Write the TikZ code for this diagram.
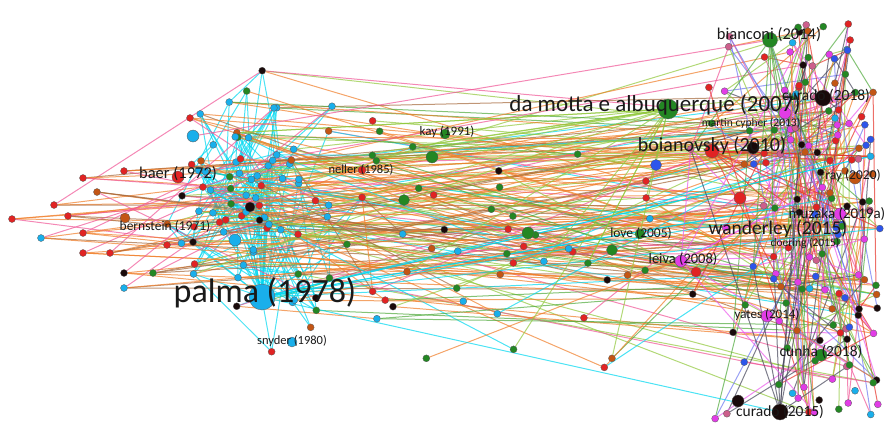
\documentclass[tikz,border=0pt]{standalone}
\usepackage{fontspec}
\setmainfont{Carlito}
\pgfdeclarelayer{edges}
\pgfsetlayers{edges,main}
% node colours
\definecolor{cyanN}{RGB}{25,175,235}
\definecolor{redN}{RGB}{225,35,35}
\definecolor{greenN}{RGB}{35,135,35}
\definecolor{blackN}{RGB}{25,10,10}
\definecolor{brownN}{RGB}{195,85,20}
\definecolor{magN}{RGB}{225,60,230}
\definecolor{pinkN}{RGB}{205,95,140}
\definecolor{blueN}{RGB}{45,85,235}
% link colours
\definecolor{cyanE}{RGB}{0,215,240}
\definecolor{orangeE}{RGB}{240,125,40}
\definecolor{limeE}{RGB}{145,200,60}
\definecolor{pinkE}{RGB}{240,85,150}
\definecolor{brownE}{RGB}{165,105,60}
\definecolor{magE}{RGB}{235,90,235}
\definecolor{greenE}{RGB}{80,170,60}
\definecolor{redE}{RGB}{230,50,40}
\definecolor{grayE}{RGB}{70,70,90}
\definecolor{blueE}{RGB}{110,120,240}
\begin{document}
\begin{tikzpicture}[x=1pt,y=-1pt,
	dot/.style={circle,draw=black!65,line width=.3pt,inner sep=0pt,minimum size=7pt},
	link/.style={line width=1pt,opacity=.7},
	lab/.style={inner sep=0pt,text=black!90}]
	\useasboundingbox (0,0) rectangle (890,436);
	\pgfmathsetseed{11}
	\pgfmathdeclarerandomlist{leftcol}{{cyanN}{cyanN}{cyanN}{cyanN}{cyanN}{cyanN}{redN}{redN}{blackN}{greenN}{brownN}}
	\pgfmathdeclarerandomlist{midcol}{{greenN}{greenN}{greenN}{redN}{cyanN}{blackN}{brownN}}
	\pgfmathdeclarerandomlist{rightcol}{{greenN}{greenN}{greenN}{blackN}{blackN}{magN}{magN}{pinkN}{redN}{redN}{blueN}{brownN}{cyanN}}
	\pgfmathdeclarerandomlist{crosscol}{{orangeE}{limeE}{cyanE}{pinkE}{brownE}{orangeE}{limeE}{orangeE}{greenE}}
	\pgfmathdeclarerandomlist{rightedge}{{magE}{greenE}{redE}{grayE}{limeE}{blueE}{pinkE}{orangeE}}
	% Left cluster (mostly cyan)
	\foreach \i in {1,...,80} {
		\pgfmathsetmacro\x{262+108*(rnd+rnd-1)}
		\pgfmathsetmacro\y{210+155*(rnd+rnd-1)}
		\pgfmathrandomitem{\col}{leftcol}
		\node[dot,fill=\col] (l\i) at (\x,\y) {};
	}
	% Scattered nodes in the middle
	\foreach \i in {1,...,45} {
		\pgfmathsetmacro\x{370+280*rnd}
		\pgfmathsetmacro\y{120+250*rnd}
		\pgfmathrandomitem{\col}{midcol}
		\node[dot,fill=\col] (m\i) at (\x,\y) {};
	}
	% Right cluster: core (r1-r100), then top and bottom (r101-r150)
	\foreach \i in {1,...,150} {
		\pgfmathsetmacro\x{880-220*rnd*(0.3+0.7*rnd)}
		\ifnum\i>100
			\pgfmathsetmacro\y{(rnd<0.45) ? 22+70*rnd : 345+77*rnd}
		\else
			\pgfmathsetmacro\y{92+255*rnd}
		\fi
		\pgfmathrandomitem{\col}{rightcol}
		\node[dot,fill=\col] (r\i) at (\x,\y) {};
	}
	% Left fringe
	\foreach \i/\x/\y/\col in {1/12/219/redN, 2/54/205/redN, 3/68/216/redN, 4/97/192/brownN,
		5/83/178/redN, 6/124/171/redN, 7/83/233/redN, 8/83/253/redN, 9/110/253/redN,
		10/41/238/cyanN, 11/124/288/cyanN, 12/124/273/blackN, 13/153/273/greenN,
		14/167/245/redN, 15/190/118/redN} {
		\node[dot,fill=\col] (f\i) at (\x,\y) {};
	}
	% Larger nodes
	\foreach \n/\x/\y/\s/\col in {palma/262/297/26/cyanN, baer/178/177/12/redN, bern/125/218/10/brownN,
		neller/362/170/8/redN, snyder/292/342/10/cyanN, kay/445/134/10/greenN,
		damotta/668/109/20/greenN, bianconi/770/40/15/greenN, curadoA/823/98/16/blackN,
		boian/712/151/14/redN, boianB/753/148/12/blackN, ray/855/178/12/brownN,
		muzaka/840/214/12/magN, wand/740/198/12/redN, love/640/234/10/greenN,
		leiva/681/261/12/magN, yates/767/316/12/magN, cunha/821/355/12/greenN,
		curadoB/780/412/16/blackN, curadoC/738/401/12/blackN, cyanA/193/136/12/cyanN,
		cyanB/235/240/12/cyanN, blackA/250/207/10/blackN, greenA/432/157/12/greenN,
		greenB/404/200/11/greenN, greenC/528/233/12/greenN, greenD/612/250/11/greenN,
		magA/785/113/12/magN, blueA/656/165/11/blueN, redB/696/272/10/redN} {
		\node[dot,fill=\col,minimum size=\s pt] (\n) at (\x,\y) {};
	}
	% Labels
	\foreach \n/\x/\y/\s/\t in {palmaL/265/293/34/palma (1978), baerL/178/174/16.5/baer (1972),
		bernL/165/226/13.5/bernstein (1971), nellerL/361/170/12.5/neller (1985),
		snyderL/292/341/12.5/snyder (1980), kayL/447/132/13/kay (1991),
		damottaL/655/105/23/da motta e albuquerque (2007), bianconiL/769/35/16.5/bianconi (2014),
		curadoAL/826/96/15.5/curado (2018), martinL/751/123/11.5/martin cypher (2013),
		boianL/712/146/20/boianovsky (2010), rayL/853/176/13.5/ray (2020),
		muzakaL/837/214/15/muzaka (2019a), wandL/778/229/19.5/wanderley (2015),
		doeringL/805/243/11.5/doering (2015), loveL/641/233/13.5/love (2005),
		leivaL/683/259/14.5/leiva (2008), yatesL/767/315/13/yates (2014),
		cunhaL/821/352/15.5/cunha (2018), curadoBL/780/412/15.5/curado (2015)} {
		\node[lab,font={\fontsize{\s pt}{\s pt}\selectfont}] (\n) at (\x,\y) {\t};
	}
	\begin{pgfonlayer}{edges}
		% cyan links inside the left cluster
		\foreach \k in {1,...,120} {
			\pgfmathrandominteger{\a}{1}{80}
			\pgfmathrandominteger{\d}{1}{79}
			\pgfmathtruncatemacro\b{mod(\a+\d-1,80)+1}
			\draw[link,cyanE] (l\a) -- (l\b);
		}
		\foreach \k in {1,...,30} {
			\pgfmathrandominteger{\a}{1}{80}
			\draw[link,cyanE] (palma) -- (l\a);
		}
		% long links from left to right (mostly to the core)
		\foreach \k in {1,...,80} {
			\pgfmathrandominteger{\a}{1}{80}
			\pgfmathrandominteger{\b}{1}{100}
			\pgfmathrandomitem{\col}{crosscol}
			\draw[link,\col] (l\a) -- (r\b);
		}
		\foreach \k in {1,...,8} {
			\pgfmathrandominteger{\a}{1}{80}
			\pgfmathrandominteger{\b}{101}{150}
			\pgfmathrandomitem{\col}{crosscol}
			\draw[link,\col] (l\a) -- (r\b);
		}
		\foreach \i in {1,...,15} {
			\foreach \k in {1,...,3} {
				\pgfmathrandominteger{\b}{1}{100}
				\pgfmathrandominteger{\c}{0}{2}
				\ifnum\c=2 \def\col{brownE}\else\def\col{orangeE}\fi
				\draw[link,\col] (f\i) -- (r\b);
			}
			\pgfmathrandominteger{\a}{1}{80}
			\draw[link,pinkE] (f\i) -- (l\a);
		}
		% links through the middle
		\foreach \k in {1,...,30} {
			\pgfmathrandominteger{\a}{1}{80}
			\pgfmathrandominteger{\b}{1}{45}
			\pgfmathrandomitem{\col}{crosscol}
			\draw[link,\col] (l\a) -- (m\b);
		}
		\foreach \k in {1,...,45} {
			\pgfmathrandominteger{\a}{1}{45}
			\pgfmathrandominteger{\b}{1}{100}
			\pgfmathrandomitem{\col}{crosscol}
			\draw[link,\col] (m\a) -- (r\b);
		}
		% links inside the right cluster
		\foreach \k in {1,...,170} {
			\pgfmathrandominteger{\a}{1}{150}
			\pgfmathrandominteger{\d}{1}{149}
			\pgfmathtruncatemacro\b{mod(\a+\d-1,150)+1}
			\pgfmathrandomitem{\col}{rightedge}
			\draw[link,\col] (r\a) -- (r\b);
		}
		% links of the larger nodes
		\foreach \k in {1,...,8} {
			\pgfmathrandominteger{\b}{1}{150}
			\pgfmathrandominteger{\m}{1}{45}
			\pgfmathrandominteger{\a}{1}{80}
			\draw[link,cyanE] (palma) -- (r\a);
			\draw[link,limeE] (damotta) -- (m\m);
			\draw[link,limeE] (damotta) -- (l\a);
			\draw[link,grayE] (curadoB) -- (r\b);
			\draw[link,redE] (boian) -- (r\a);
			\draw[link,greenE] (bianconi) -- (r\b);
			\draw[link,magE] (leiva) -- (r\b);
		}
		% single long links to the corners
		\draw[link,pinkE] (cyanA) -- (bianconi);
		\draw[link,cyanE] (palma) -- (curadoB);
	\end{pgfonlayer}
\end{tikzpicture}
\end{document}
